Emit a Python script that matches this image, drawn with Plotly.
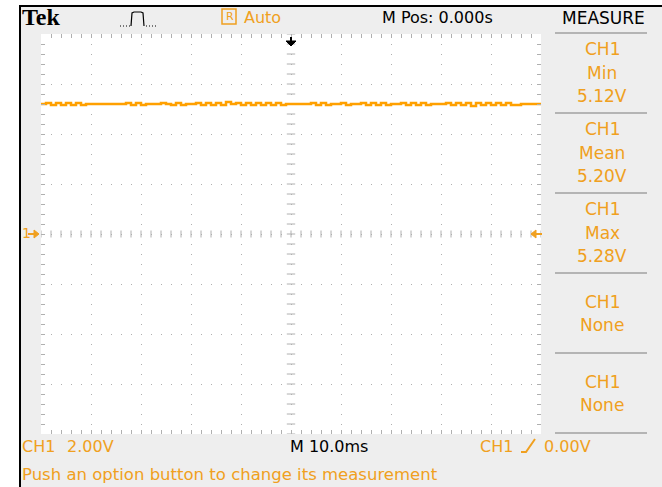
import plotly.graph_objects as go

# ---- acquisition: CH1, 2.00 V/div, 10.0 ms/div ----
time_ms = list(range(-50, 51))
ch1_volts = [
    5.20, 5.24, 5.16, 5.24, 5.16, 5.24, 5.16, 5.24, 5.16, 5.20,
    5.20, 5.20, 5.20, 5.20, 5.20, 5.20, 5.20, 5.24, 5.16, 5.24,
    5.16, 5.20, 5.20, 5.20, 5.24, 5.20, 5.16, 5.24, 5.16, 5.20,
    5.20, 5.24, 5.16, 5.24, 5.16, 5.24, 5.16, 5.28, 5.20, 5.24,
    5.16, 5.24, 5.16, 5.24, 5.16, 5.24, 5.16, 5.24, 5.16, 5.20,
    5.20, 5.20, 5.20, 5.20, 5.24, 5.16, 5.24, 5.16, 5.20, 5.20,
    5.24, 5.16, 5.20, 5.20, 5.24, 5.16, 5.24, 5.16, 5.24, 5.16,
    5.20, 5.20, 5.24, 5.16, 5.24, 5.16, 5.24, 5.16, 5.20, 5.20,
    5.20, 5.24, 5.16, 5.24, 5.16, 5.24, 5.12, 5.24, 5.16, 5.24,
    5.16, 5.24, 5.16, 5.24, 5.16, 5.16, 5.20, 5.20, 5.20, 5.20,
    5.20,
]

volts_per_div = 2.0
ms_per_div = 10.0
h_divs, v_divs = 10, 8

measure_names = ["Min", "Mean", "Max", "None", "None"]
stats = {
    "Min": min(ch1_volts),
    "Mean": sum(ch1_volts) / len(ch1_volts),
    "Max": max(ch1_volts),
}

# ---- screen geometry (pixels) ----
W, H = 662, 487
GL, GR, GT, GB = 41, 541, 34, 434   # graticule box

ORANGE = "#f0a020"
TRACE = "#ffa000"
GRID = "#b0b0b0"
PANEL = "#eeeeee"
FONT = "DejaVu Sans"


def px(x):
    return (x - GL) / (GR - GL)


def py(y):
    return (GB - y) / (GB - GT)


x_half = h_divs / 2 * ms_per_div
y_half = v_divs / 2 * volts_per_div

fig = go.Figure()

# centre-axis tick marks (every fifth of a division)
minor_x = [i * ms_per_div / 5 for i in range(-h_divs * 5 // 2, h_divs * 5 // 2 + 1)]
minor_y = [i * volts_per_div / 5 for i in range(-v_divs * 5 // 2, v_divs * 5 // 2 + 1)]
fig.add_trace(go.Scatter(
    x=minor_x, y=[0] * len(minor_x), mode="markers",
    marker=dict(symbol="line-ns", size=5, line=dict(width=1, color=GRID)),
    hoverinfo="skip", showlegend=False))
fig.add_trace(go.Scatter(
    x=[0] * len(minor_y), y=minor_y, mode="markers",
    marker=dict(symbol="line-ew", size=6, line=dict(width=1, color=GRID)),
    hoverinfo="skip", showlegend=False))

# CH1 waveform (sample-and-hold look)
fig.add_trace(go.Scatter(
    x=time_ms, y=ch1_volts, mode="lines", line_shape="hv",
    line=dict(color=TRACE, width=2.5),
    hoverinfo="skip", showlegend=False))

axis_common = dict(
    showgrid=True, gridcolor=GRID, griddash="1px,9px", gridwidth=1,
    zeroline=False, showticklabels=False, showline=False,
    ticks="inside", ticklen=4, tickcolor=GRID, tickwidth=1, mirror="ticks",
    fixedrange=True,
)
fig.update_xaxes(range=[-x_half, x_half], dtick=ms_per_div, tick0=0,
                 minor=dict(dtick=ms_per_div / 5, ticks="inside", ticklen=4,
                            tickcolor=GRID, showgrid=False),
                 **axis_common)
fig.update_yaxes(range=[-y_half, y_half], dtick=volts_per_div, tick0=0,
                 minor=dict(dtick=volts_per_div / 5, ticks="inside", ticklen=4,
                            tickcolor=GRID, showgrid=False),
                 **axis_common)

shapes = []


def rect(x0, y0, x1, y1, fill=None, line=None, lw=0):
    shapes.append(dict(type="rect", xref="paper", yref="paper",
                       x0=px(x0), x1=px(x1), y0=py(y0), y1=py(y1),
                       fillcolor=fill, line=dict(width=lw, color=line or "rgba(0,0,0,0)")))


def seg(x0, y0, x1, y1, color, lw):
    shapes.append(dict(type="line", xref="paper", yref="paper",
                       x0=px(x0), x1=px(x1), y0=py(y0), y1=py(y1),
                       line=dict(color=color, width=lw)))


def path(points, color, lw=1, fill=None, closed=False):
    d = "M " + " L ".join(f"{px(a):.5f},{py(b):.5f}" for a, b in points)
    if closed:
        d += " Z"
    shapes.append(dict(type="path", xref="paper", yref="paper", path=d,
                       line=dict(color=color, width=lw),
                       fillcolor=fill if fill else "rgba(0,0,0,0)"))


# white margin outside the bezel, black bezel edge
rect(0, 0, 19, H, fill="white")
rect(0, 0, W, 5, fill="white")
seg(20, 5, 20, H, "black", 2)
seg(19, 6, W, 6, "black", 2)

# measurement panel separators
for ysep in [33, 113, 193, 273, 353, 433]:
    seg(555, ysep, 647, ysep, "#b4b4b4", 2)

# trigger position marker (top)
seg(291, 37, 291, 41, "black", 2)
path([(286, 41), (296, 41), (291, 46)], "black", 1, fill="black", closed=True)

# CH1 ground marker (left) and trigger level marker (right)
seg(28, 234, 34, 234, ORANGE, 2)
path([(34, 230), (39, 234), (34, 238)], ORANGE, 1, fill=ORANGE, closed=True)
seg(536, 234, 542, 234, ORANGE, 2)
path([(536, 230), (531, 234), (536, 238)], ORANGE, 1, fill=ORANGE, closed=True)

# trigger type icon (pulse)
for xd in range(120, 131, 3):
    seg(xd, 26, xd + 1, 26, "black", 1)
path([(131, 26), (132, 13), (134, 12), (141, 12), (143, 13), (144, 26)], "black", 1.2)
for xd in range(146, 158, 3):
    seg(xd, 26, xd + 1, 26, "black", 1)

# run-state box
rect(222, 9, 236, 24, line=ORANGE, lw=1.5)

# trigger slope symbol
path([(521, 452), (526, 452), (535, 439)], ORANGE, 2)

fig.update_layout(shapes=shapes)

ann = []


def text(s, x, y, size=16, color="black", anchor="left", family=FONT, bold=False):
    ann.append(dict(text=f"<b>{s}</b>" if bold else s, x=px(x), y=py(y),
                    xref="paper", yref="paper", showarrow=False,
                    xanchor=anchor, yanchor="middle",
                    font=dict(family=family, size=size, color=color)))


# header row
text("Tek", 20, 17, size=24, family="Liberation Serif", bold=True)
text("R", 229.5, 16.5, size=11, color=ORANGE, anchor="center")
text("Auto", 242, 17, size=16, color=ORANGE)
text("M Pos: 0.000s", 380, 17, size=16)
text("MEASURE", 603, 18, size=17, anchor="center")

# measurement readouts
group_tops = [33, 113, 193, 273, 353]
for top, name in zip(group_tops, measure_names):
    if name in stats:
        lines = ["CH1", name, f"{stats[name]:.2f}V"]
        ys = [top + 16, top + 40, top + 63]
    else:
        lines = ["CH1", name]
        ys = [top + 29, top + 52]
    for s, yy in zip(lines, ys):
        text(s, 602, yy, size=17, color=ORANGE, anchor="center")

# ground-marker channel number
text("1", 20, 233, size=14, color=ORANGE)

# status row
text("CH1", 20, 446, size=16, color=ORANGE)
text(f"{volts_per_div:.2f}V", 65, 446, size=16, color=ORANGE)
text(f"M {ms_per_div:.1f}ms", 288, 446, size=16)
text("CH1", 478, 446, size=16, color=ORANGE)
text("0.00V", 542, 446, size=16, color=ORANGE)
text("Push an option button to change its measurement", 20, 474, size=16.5, color=ORANGE)

fig.update_layout(
    annotations=ann,
    width=W, height=H, autosize=False,
    margin=dict(l=GL, r=W - GR, t=GT, b=H - GB, pad=0),
    paper_bgcolor=PANEL, plot_bgcolor="white",
    showlegend=False,
)

fig.write_html("out.html", config=dict(displayModeBar=False, staticPlot=True))
